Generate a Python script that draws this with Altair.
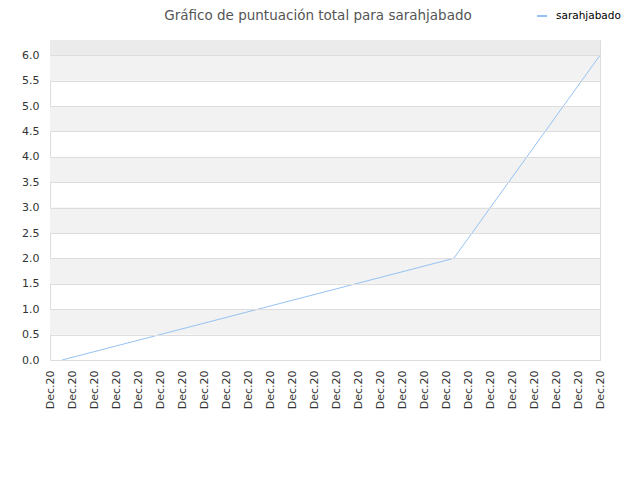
import altair as alt
import pandas as pd

# Data
series_name = "sarahjabado"
x_positions = [0.55, 18.35, 25.0]   # position along the x axis (tick index units)
scores = [0.0, 2.0, 6.0]
tick_index = list(range(26))
tick_label = "Dec.20"
y_ticks = [0.0, 0.5, 1.0, 1.5, 2.0, 2.5, 3.0, 3.5, 4.0, 4.5, 5.0, 5.5, 6.0]
band_start = [0.5, 1.5, 2.5, 3.5, 4.5, 5.5]
band_end = [1.0, 2.0, 3.0, 4.0, 5.0, 6.0]
top_band = [6.0, 6.3]

line_df = pd.DataFrame({"x": x_positions, "score": scores, "serie": [series_name] * len(scores)})
band_df = pd.DataFrame({"y": band_start, "y2": band_end})
top_df = pd.DataFrame({"y": [top_band[0]], "y2": [top_band[1]]})

FONT = "DejaVu Sans"
x_scale = alt.Scale(domain=[0, 25], nice=False, zero=False)
y_scale = alt.Scale(domain=[0, 6.3], nice=False)

y_axis = alt.Axis(values=y_ticks, format=".1f", title=None, ticks=False,
                  labelPadding=11, grid=True, gridColor="#dddddd",
                  domain=False, labelFont=FONT, labelFontSize=11,
                  labelColor="#333333", labelOverlap=False, zindex=1)

bands = alt.Chart(band_df).mark_rect(color="#f2f2f2").encode(
    x=alt.value(0), x2=alt.value(550),
    y=alt.Y("y:Q", scale=y_scale, axis=y_axis),
    y2="y2:Q",
)

top = alt.Chart(top_df).mark_rect(color="#ebebeb").encode(
    x=alt.value(0), x2=alt.value(550),
    y=alt.Y("y:Q", scale=y_scale, axis=y_axis), y2="y2:Q",
)

line = alt.Chart(line_df).mark_line(strokeWidth=1).encode(
    x=alt.X("x:Q", scale=x_scale,
            axis=alt.Axis(values=tick_index, labelExpr=f"'{tick_label}'", title=None,
                          ticks=False, grid=False, domain=False, labelAngle=-90,
                          labelPadding=10, labelFont=FONT, labelFontSize=11,
                          labelColor="#333333", labelOverlap=False)),
    y=alt.Y("score:Q", scale=y_scale, axis=y_axis),
    color=alt.Color("serie:N", scale=alt.Scale(range=["#95c2f2"]),
                    legend=alt.Legend(title=None, orient="none", legendX=486, legendY=-30,
                                      symbolType="stroke", symbolSize=100,
                                      symbolStrokeWidth=2, labelFont=FONT,
                                      labelFontSize=10.5, labelColor="#000000",
                                      labelOffset=8)),
)

chart = alt.layer(top, bands, line).properties(
    width=550, height=320,
    title=alt.TitleParams("Gráfico de puntuación total para sarahjabado",
                          font=FONT, fontSize=13.5, fontWeight="normal",
                          color="#555555", anchor="middle", dx=-7, offset=0, dy=12),
    autosize=alt.AutoSizeParams(type="none"),
    padding={"left": 42, "top": 32, "right": 30, "bottom": 60},
).configure_view(stroke="#dddddd", strokeWidth=1)

chart.save("out.html", embed_options={"renderer": "svg", "actions": False})
